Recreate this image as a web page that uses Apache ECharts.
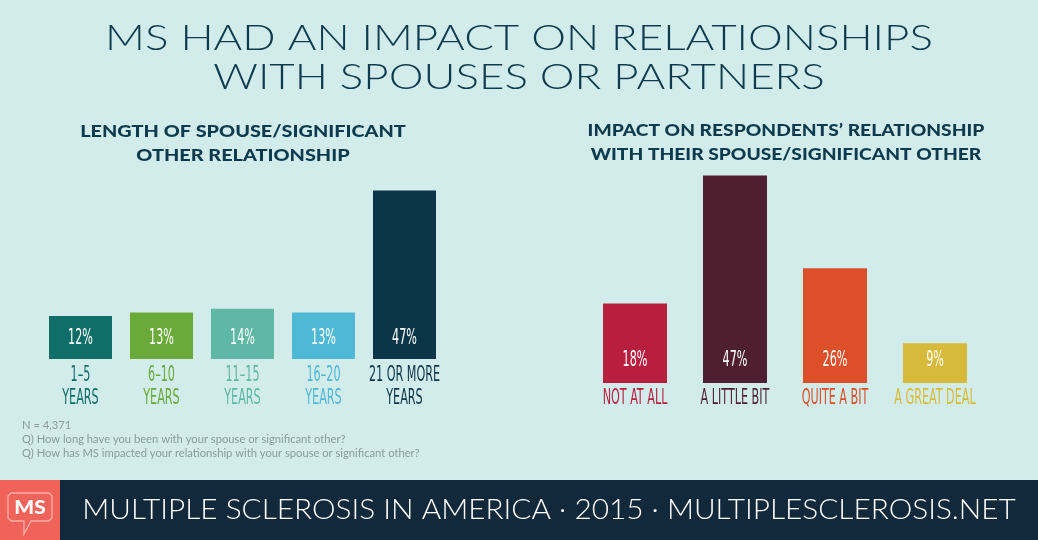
<!DOCTYPE html>
<html>
<head>
<meta charset="utf-8">
<script src="https://cdn.jsdelivr.net/npm/echarts@6/dist/echarts.min.js"></script>
<style>
html,body{margin:0;padding:0;background:#d2ecec;}
#c{width:1038px;height:540px;}
</style>
</head>
<body>
<div id="c"></div>
<script>
// ---- data ----
var lengthCategories = ['1–5\nYEARS', '6–10\nYEARS', '11–15\nYEARS', '16–20\nYEARS', '21 OR MORE\nYEARS'];
var lengthValues = [12, 13, 14, 13, 47];
var lengthColors = ['#0f6e67', '#6aaa3b', '#5eb8a5', '#4fb8d5', '#0c3547'];

var impactCategories = ['NOT AT ALL', 'A LITTLE BIT', 'QUITE A BIT', 'A GREAT DEAL'];
var impactValues = [18, 47, 26, 9];
var impactColors = ['#b81f3e', '#4e1f2e', '#dc4f28', '#d8ba3a'];

var titleLines = ['MS HAD AN IMPACT ON RELATIONSHIPS', 'WITH SPOUSES OR PARTNERS'];
var leftTitle = 'LENGTH OF SPOUSE/SIGNIFICANT\nOTHER RELATIONSHIP';
var rightTitle = 'IMPACT ON RESPONDENTS\u2019 RELATIONSHIP\nWITH THEIR SPOUSE/SIGNIFICANT OTHER';
var notes = ['N = 4,371',
  'Q) How long have you been with your spouse or significant other?',
  'Q) How has MS impacted your relationship with your spouse or significant other?'];
var footerText = 'MULTIPLE SCLEROSIS IN AMERICA \u00b7 2015 \u00b7 MULTIPLESCLEROSIS.NET';

var narrow = '"DejaVu Sans Condensed", "DejaVu Sans", sans-serif';
var ink = '#0d3a4c';

var chart = echarts.init(document.getElementById('c'));
chart.setOption({
  backgroundColor: '#d2ecec',
  animation: false,
  grid: [
    {left: 40, width: 405, top: 144, height: 215},
    {left: 585, width: 400, top: 118, height: 265}
  ],
  xAxis: [
    {type: 'category', gridIndex: 0, data: lengthCategories,
     axisLine: {show: false}, axisTick: {show: false}, axisLabel: {show: false}},
    {type: 'category', gridIndex: 1, data: impactCategories,
     axisLine: {show: false}, axisTick: {show: false}, axisLabel: {show: false}}
  ],
  yAxis: [
    {type: 'value', gridIndex: 0, min: 0, max: 60, show: false, splitLine: {show: false}},
    {type: 'value', gridIndex: 1, min: 0, max: 60, show: false, splitLine: {show: false}}
  ],
  series: [
    {type: 'bar', xAxisIndex: 0, yAxisIndex: 0, barWidth: 63,
     data: lengthValues.map(function (v, i) { return {value: v, itemStyle: {color: lengthColors[i]}}; })},
    {type: 'bar', xAxisIndex: 1, yAxisIndex: 1, barWidth: 64,
     data: impactValues.map(function (v, i) { return {value: v, itemStyle: {color: impactColors[i]}}; })}
  ]
});

// ---- text drawn via graphic, positioned from the axes' own scales ----
var g = [];
function condensed(text, x, y, color, vAlign) {
  return {type: 'text', x: x, y: y, scaleX: 0.565, z: 10,
    style: {text: text, fontFamily: narrow, fontSize: 22, lineHeight: 23,
      fill: color, align: 'center', verticalAlign: vAlign}};
}
lengthCategories.forEach(function (c, i) {
  var p = chart.convertToPixel({xAxisIndex: 0, yAxisIndex: 0}, [i, 0]);
  g.push(condensed(lengthValues[i] + '%', p[0], p[1] - 21, '#ffffff', 'middle'));
  g.push(condensed(c, p[0], p[1] + 4.5, lengthColors[i], 'top'));
});
impactCategories.forEach(function (c, i) {
  var p = chart.convertToPixel({xAxisIndex: 1, yAxisIndex: 1}, [i, 0]);
  g.push(condensed(impactValues[i] + '%', p[0], p[1] - 23, '#ffffff', 'middle'));
  g.push(condensed(c, p[0], p[1] + 3.5, impactColors[i], 'top'));
});

g.push({type: 'text', x: 519, y: 38, scaleX: 1.22,
  style: {text: titleLines[0], fontFamily: 'Lato', fontWeight: 300, fontSize: 36, fill: ink, align: 'center', verticalAlign: 'middle'}});
g.push({type: 'text', x: 519, y: 77, scaleX: 1.22,
  style: {text: titleLines[1], fontFamily: 'Lato', fontWeight: 300, fontSize: 36, fill: ink, align: 'center', verticalAlign: 'middle'}});
g.push({type: 'text', x: 243, y: 144, scaleX: 1.24,
  style: {text: leftTitle, fontFamily: 'Lato', fontWeight: 900, fontSize: 16, lineHeight: 24, fill: ink, align: 'center', verticalAlign: 'middle'}});
g.push({type: 'text', x: 786, y: 143, scaleX: 1.2,
  style: {text: rightTitle, fontFamily: 'Lato', fontWeight: 900, fontSize: 16, lineHeight: 24, fill: ink, align: 'center', verticalAlign: 'middle'}});

g.push({type: 'text', x: 22, y: 418,
  style: {text: notes.join('\n'), fontFamily: 'Lato', fontSize: 11.2, lineHeight: 14, fill: '#8a9a9c'}});

g.push({type: 'rect', x: 0, y: 480, shape: {width: 1038, height: 60}, style: {fill: '#11293a'}});
g.push({type: 'rect', x: 0, y: 480, shape: {width: 60, height: 60}, style: {fill: '#f0635a'}});
g.push({type: 'polyline', shape: {points: [[20, 521], [11, 521], [8, 518], [8, 496], [11, 493], [49, 493], [52, 496], [52, 518], [49, 521], [31, 521], [24, 534], [24, 521], [20, 521]]},
  style: {stroke: '#f9aea6', lineWidth: 1.3, fill: null}});
g.push({type: 'text', x: 30, y: 508, scaleX: 1.1,
  style: {text: 'MS', fontFamily: 'Lato', fontWeight: 900, fontSize: 19, fill: '#ffffff', align: 'center', verticalAlign: 'middle'}});
g.push({type: 'text', x: 549, y: 510, scaleX: 1.124,
  style: {text: footerText, fontFamily: 'Lato', fontWeight: 300, fontSize: 26.5, fill: '#ffffff', align: 'center', verticalAlign: 'middle'}});

chart.setOption({graphic: g});
</script>
</body>
</html>
